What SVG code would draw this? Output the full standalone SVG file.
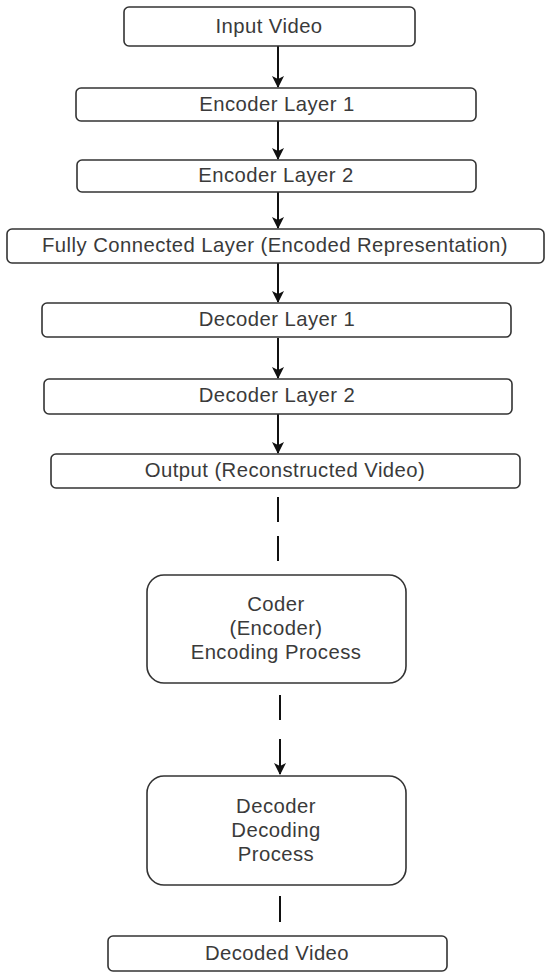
<svg xmlns="http://www.w3.org/2000/svg" width="550" height="980" viewBox="0 0 550 980">
<style>
.box{fill:#fff;stroke:#333;stroke-width:1.6}
.t{font-family:"Liberation Sans",Arial,sans-serif;font-size:20.3px;fill:#3a3a3a;text-anchor:middle;letter-spacing:0.45px}
.c{stroke:#111;stroke-width:2;fill:none}
</style>
<defs>
<marker id="arr" markerWidth="13" markerHeight="13" refX="6.5" refY="12" orient="0" markerUnits="userSpaceOnUse" viewBox="0 0 13 13">
<path d="M0.5,1 L6.5,4 L12.5,1 L6.5,13 Z" fill="#111"/>
</marker>
</defs>
<rect width="550" height="980" fill="#fff"/>
<g id="connectors">
<line class="c" x1="278" y1="46" x2="278" y2="87" marker-end="url(#arr)"/>
<line class="c" x1="278" y1="121" x2="278" y2="159" marker-end="url(#arr)"/>
<line class="c" x1="278" y1="192" x2="278" y2="228" marker-end="url(#arr)"/>
<line class="c" x1="278" y1="263" x2="278" y2="302" marker-end="url(#arr)"/>
<line class="c" x1="278" y1="338" x2="278" y2="378" marker-end="url(#arr)"/>
<line class="c" x1="278" y1="414" x2="278" y2="453" marker-end="url(#arr)"/>
<line class="c" x1="278" y1="497" x2="278" y2="522"/>
<line class="c" x1="278" y1="536" x2="278" y2="561"/>
<line class="c" x1="280" y1="695" x2="280" y2="720"/>
<line class="c" x1="280" y1="739" x2="280" y2="774" marker-end="url(#arr)"/>
<line class="c" x1="280" y1="896" x2="280" y2="922"/>
</g>
<g id="input-video"><rect class="box" x="124" y="7" width="291" height="39" rx="5"/><text class="t" x="269" y="33">Input Video</text></g>
<g id="encoder-layer-1"><rect class="box" x="76" y="88" width="400" height="33" rx="5"/><text class="t" x="277" y="111">Encoder Layer 1</text></g>
<g id="encoder-layer-2"><rect class="box" x="77" y="160" width="399" height="32" rx="5"/><text class="t" x="276" y="182">Encoder Layer 2</text></g>
<g id="fully-connected"><rect class="box" x="7" y="229" width="537" height="34" rx="5"/><text class="t" x="275" y="252">Fully Connected Layer (Encoded Representation)</text></g>
<g id="decoder-layer-1"><rect class="box" x="42" y="303" width="469" height="34" rx="5"/><text class="t" x="277" y="326">Decoder Layer 1</text></g>
<g id="decoder-layer-2"><rect class="box" x="44" y="379" width="468" height="35" rx="5"/><text class="t" x="277" y="402">Decoder Layer 2</text></g>
<g id="output"><rect class="box" x="51" y="454" width="469" height="34" rx="5"/><text class="t" x="285" y="477">Output (Reconstructed Video)</text></g>
<g id="coder"><rect class="box" x="147" y="575" width="259" height="108" rx="17"/><text class="t" x="276" y="611">Coder</text><text class="t" x="276" y="635">(Encoder)</text><text class="t" x="276" y="659">Encoding Process</text></g>
<g id="decoder"><rect class="box" x="147" y="776" width="259" height="109" rx="17"/><text class="t" x="276" y="813">Decoder</text><text class="t" x="276" y="837">Decoding</text><text class="t" x="276" y="861">Process</text></g>
<g id="decoded-video"><rect class="box" x="108" y="936" width="339" height="35" rx="5"/><text class="t" x="277" y="960">Decoded Video</text></g>
</svg>
